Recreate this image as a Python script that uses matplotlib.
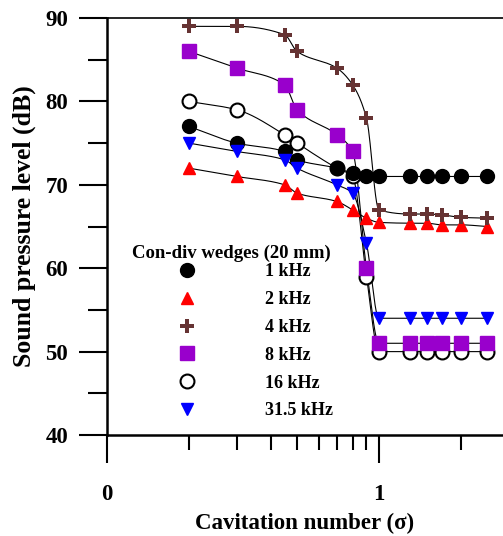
#!/usr/bin/env python3
"""Sound pressure level vs cavitation number for con-div wedges (20 mm)."""

import numpy as np
import matplotlib
matplotlib.use("Agg")
import matplotlib.pyplot as plt
from matplotlib.ticker import FixedLocator, FixedFormatter, NullFormatter

SIGMA = [0.2, 0.3, 0.45, 0.5, 0.7, 0.8, 0.9, 1.0, 1.3, 1.5, 1.7, 2.0, 2.5]

SPL_1K = [77, 75, 74, 73, 72, 71.4, 71, 71, 71, 71, 71, 71, 71]
SPL_2K = [72, 71, 70, 69, 68, 67, 66, 65.5, 65.4, 65.4, 65.2, 65.2, 65]
SPL_4K = [89, 89, 88, 86, 84, 82, 78, 67, 66.5, 66.5, 66.4, 66.1, 66]
SPL_8K = [86, 84, 82, 79, 76, 74, 60, 51, 51, 51, 51, 51, 51]
SPL_16K = [80, 79, 76, 75, 72, 71, 59, 50, 50, 50, 50, 50, 50]
SPL_31K = [75, 74, 73, 72, 70, 69, 63, 54, 54, 54, 54, 54, 54]

LABELS = ["1 kHz", "2 kHz", "4 kHz", "8 kHz", "16 kHz", "31.5 kHz"]

FONT = "Liberation Serif"


def pchip(x, y, xs):
    """Monotone cubic (Fritsch-Carlson) through the points."""
    x = np.asarray(x, float)
    y = np.asarray(y, float)
    h = np.diff(x)
    d = np.diff(y) / h
    m = np.zeros_like(y)
    for k in range(1, len(x) - 1):
        if d[k - 1] * d[k] > 0:
            w1 = 2 * h[k] + h[k - 1]
            w2 = h[k] + 2 * h[k - 1]
            m[k] = (w1 + w2) / (w1 / d[k - 1] + w2 / d[k])
    m[0] = d[0]
    m[-1] = d[-1]
    idx = np.clip(np.searchsorted(x, xs) - 1, 0, len(x) - 2)
    t = (xs - x[idx]) / h[idx]
    h00 = 2 * t**3 - 3 * t**2 + 1
    h10 = t**3 - 2 * t**2 + t
    h01 = -2 * t**3 + 3 * t**2
    h11 = t**3 - t**2
    return (h00 * y[idx] + h10 * h[idx] * m[idx]
            + h01 * y[idx + 1] + h11 * h[idx] * m[idx + 1])


def main():
    plt.rcParams["font.family"] = [FONT, "DejaVu Serif"]
    plt.rcParams["font.weight"] = "bold"

    fig = plt.figure(figsize=(5.03, 5.36), dpi=100)
    ax = fig.add_axes([0.2127, 0.1884, 0.7873, 0.778])

    series = [
        (SPL_16K, dict(marker="o", ms=10, mfc="white", mec="black", mew=1.5), 4, 2),
        (SPL_1K, dict(marker="o", ms=10, mfc="black", mec="black"), 0, 3),
        (SPL_2K, dict(marker="^", ms=9, mfc="#ff0000", mec="#ff0000"), 1, 3),
        (SPL_4K, dict(marker="P", ms=10, mfc="#663333", mec="#663333", mew=0), 2, 3),
        (SPL_8K, dict(marker="s", ms=9.5, mfc="#9900cc", mec="#9900cc"), 3, 3),
        (SPL_31K, dict(marker="v", ms=9, mfc="#0000ff", mec="#0000ff"), 5, 3),
    ]

    lx = np.log10(SIGMA)
    xs = np.linspace(lx[0], lx[-1], 600)
    handles = [None] * len(LABELS)
    for vals, style, li, z in series:
        ax.plot(10**xs, pchip(lx, vals, xs), color="black", lw=0.8, zorder=1)
        h, = ax.plot(SIGMA, vals, ls="none", zorder=z, label=LABELS[li], **style)
        handles[li] = h

    ax.set_xscale("log")
    ax.set_xlim(0.1, 2.86)
    ax.set_ylim(40, 90)

    ax.xaxis.set_major_locator(FixedLocator([0.1, 1]))
    ax.xaxis.set_major_formatter(FixedFormatter(["0", "1"]))
    ax.xaxis.set_minor_locator(FixedLocator([0.2, 0.3, 0.4, 0.5, 0.6, 0.7, 0.8, 0.9, 2]))
    ax.xaxis.set_minor_formatter(NullFormatter())
    ax.set_yticks(range(40, 91, 10))
    ax.set_yticks(range(45, 90, 10), minor=True)

    ax.tick_params(which="major", direction="out", length=20, width=1.5, labelsize=16.5)
    ax.tick_params(axis="x", which="major", pad=15)
    ax.tick_params(axis="y", which="major", pad=8)
    ax.tick_params(which="minor", direction="out", length=11, width=1.5)
    ax.tick_params(axis="y", which="minor", length=14)

    for lab in ax.get_xticklabels() + ax.get_yticklabels():
        lab.set_fontweight("bold")

    ax.spines["right"].set_visible(False)
    ax.spines["left"].set_linewidth(1.8)
    ax.spines["bottom"].set_linewidth(1.8)
    ax.spines["top"].set_linewidth(1.2)

    ax.set_xlabel("Cavitation number (σ)", fontsize=16.5, fontweight="bold", labelpad=6)
    ax.set_ylabel("Sound pressure level (dB)", fontsize=18.5, fontweight="bold", labelpad=7)

    leg = ax.legend(handles=handles, loc="upper left", bbox_to_anchor=(0.03, 0.487),
                    frameon=False, title="Con-div wedges (20 mm)",
                    prop={"family": FONT, "weight": "bold", "size": 13},
                    handlelength=6.2, handletextpad=1.17, labelspacing=0.6,
                    borderpad=0.2)
    leg.get_title().set_fontweight("bold")
    leg.get_title().set_fontsize(13.5)
    leg._legend_box.align = "left"
    leg._legend_box.sep = 1

    fig.savefig("out.png", dpi=100)


if __name__ == "__main__":
    main()
